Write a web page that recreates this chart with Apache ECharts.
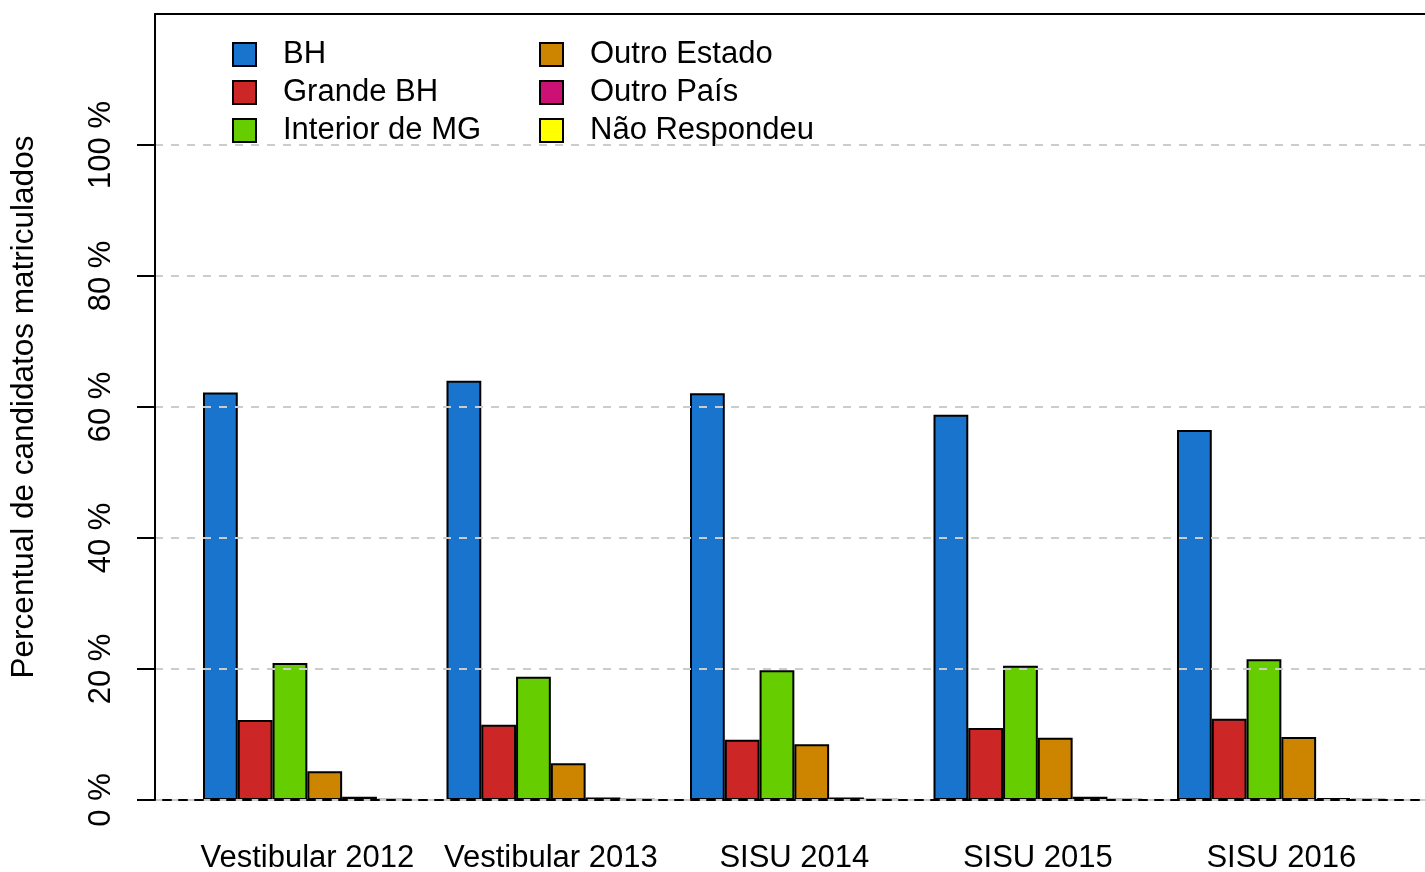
<!DOCTYPE html>
<html>
<head>
<meta charset="utf-8">
<script src="https://cdn.jsdelivr.net/npm/echarts@6/dist/echarts.min.js"></script>
<style>
	html, body { margin: 0; padding: 0; background: #fff; }
	#main { width: 1425px; height: 872px; }
</style>
</head>
<body>
<div id="main"></div>
<script>
// categorias (anos) e percentuais de cada origem
var anos = ["Vestibular 2012", "Vestibular 2013", "SISU 2014", "SISU 2015", "SISU 2016"];
var origens = ["BH", "Grande BH", "Interior de MG", "Outro Estado", "Outro País", "Não Respondeu"];
var cores = ["#1874CD", "#CD2626", "#66CD00", "#CD8500", "#CD1076", "#FFFF00"];
var bh = [62.2, 64.0, 62.1, 58.8, 56.5];
var grandeBh = [12.2, 11.5, 9.2, 11.0, 12.4];
var interior = [20.9, 18.8, 19.8, 20.5, 21.5];
var outroEstado = [4.4, 5.6, 8.5, 9.5, 9.6];
var outroPais = [0.5, 0.4, 0.4, 0.5, 0.3];
var naoResp = [0.1, 0.05, 0.1, 0.05, 0.05];
var yTicks = [0, 20, 40, 60, 80, 100];

var valores = [bh, grandeBh, interior, outroEstado, outroPais, naoResp];
var fonte = "'Liberation Sans', Arial, sans-serif";
var tam = 31;

var myChart = echarts.init(document.getElementById("main"));

var _series = [];
for (var i = 0; i < origens.length; i++) {
	_series.push({
		name: origens[i],
		type: "bar",
		xAxisIndex: 2,
		yAxisIndex: 1,
		barGap: "0%",
		barCategoryGap: (100 / 7) + "%",
		itemStyle: { color: cores[i], borderColor: "#000", borderWidth: 2 },
		emphasis: { disabled: true },
		data: valores[i]
	});
}

//legenda em duas colunas
function legenda(itens, x) {
	return {
		data: itens,
		orient: "vertical",
		left: x, top: 39, padding: 0,
		itemWidth: 23, itemHeight: 23, itemGap: 7,
		icon: "rect",
		selectedMode: false,
		itemStyle: { borderColor: "#000", borderWidth: 2 },
		textStyle: { fontSize: tam, color: "#000", fontFamily: fonte, padding: [0, 0, 0, 22] }
	};
}

myChart.setOption({
	animation: false,
	textStyle: { fontFamily: fonte },
	grid: [
		{ left: 155, right: -12, top: 14, bottom: 72, outerBoundsMode: "none" },   // moldura + grade
		{ left: 185.6, right: 21.9, top: 14, bottom: 72, outerBoundsMode: "none" } // barras
	],
	legend: [legenda(origens.slice(0, 3), 232), legenda(origens.slice(3), 539)],
	xAxis: [
		{
			gridIndex: 0, type: "value", min: 0, max: 1, position: "bottom",
			axisLine: { show: true, onZero: false, lineStyle: { color: "#000", width: 2, type: [8, 8], dashOffset: 8 } },
			axisTick: { show: false }, axisLabel: { show: false }, splitLine: { show: false }, z: 11
		},
		{
			gridIndex: 0, type: "value", min: 0, max: 1, position: "top",
			axisLine: { show: true, onZero: false, lineStyle: { color: "#000", width: 2 } },
			axisTick: { show: false }, axisLabel: { show: false }, splitLine: { show: false }, z: 11
		},
		{
			gridIndex: 1, type: "category", data: anos,
			axisLine: { show: false }, axisTick: { show: false },
			axisLabel: { interval: 0, fontSize: tam, color: "#000", margin: 43, fontFamily: fonte }
		}
	],
	yAxis: [
		{
			gridIndex: 0, type: "value", min: 0, max: 120, interval: 20,
			name: "Percentual de candidatos matriculados",
			nameLocation: "middle", nameGap: 115,
			nameTextStyle: { fontSize: 31.5, color: "#000", fontFamily: fonte },
			axisLine: { show: true, lineStyle: { color: "#000", width: 2 } },
			axisTick: { show: true, length: 18, customValues: yTicks, lineStyle: { color: "#000", width: 2 } },
			axisLabel: {
				rotate: 90, fontSize: tam, color: "#000", margin: 38, fontFamily: fonte,
				customValues: yTicks,
				formatter: function(v){ return v + " %"; }
			},
			splitLine: { show: true, lineStyle: { color: "#cccccc", width: 2, type: [8, 8] } },
			z: 10
		},
		{
			gridIndex: 1, type: "value", min: 0, max: 120,
			axisLine: { show: false }, axisTick: { show: false }, axisLabel: { show: false }, splitLine: { show: false }
		}
	],
	series: _series
});
</script>
</body>
</html>
